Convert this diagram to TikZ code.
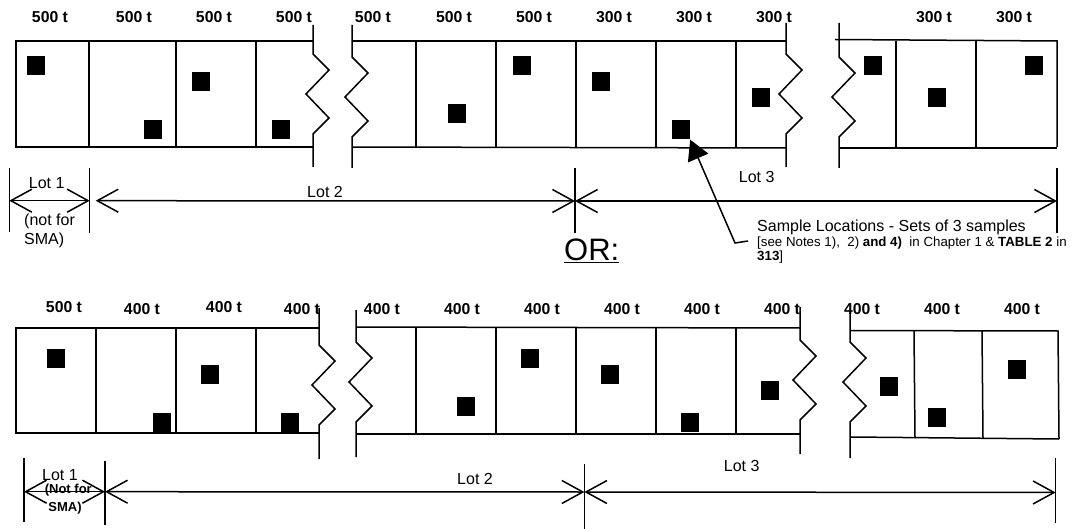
\documentclass[tikz,border=0pt]{standalone}
\usepackage{fontspec}
\setmainfont{Liberation Sans}
\usetikzlibrary{arrows.meta}

\tikzset{
	cell/.style={line width=1.5pt},
	sample/.style={fill=black,inner sep=0pt,minimum width=18pt,minimum height=19pt},
	tons/.style={font=\fontsize{15.8}{18}\selectfont\bfseries,inner sep=0pt},
	lotlabel/.style={font=\fontsize{16}{18}\selectfont,inner sep=0pt},
	smallnote/.style={font=\fontsize{13.3}{15}\selectfont,inner sep=0pt,anchor=base west},
	dimline/.style={line width=1.5pt,{Straight Barb[length=21pt,width=23pt]}-{Straight Barb[length=21pt,width=23pt]}},
}

\begin{document}
\begin{tikzpicture}[x=1pt,y=-1pt]
		\useasboundingbox (0,0) rectangle (1075,529);
		% upper layout
		\draw[cell] (313,41) -- (16,41) -- (16,147) -- (313,147);
		\draw[cell] (352,41) -- (786,41);
		\draw[cell] (352,147) -- (786,148);
		\draw[cell] (835,39.5) -- (1057,41) -- (1057,147);
		\draw[cell] (839,148) -- (1057,148);
		\foreach \x in {89,176,256,416,496,576,656,736,896,976}{
			\draw[cell] (\x,41) -- (\x,147.5);
		}
		\foreach \x/\ya/\yb/\yc in {313/25/54/167, 352/25/57/168, 786/23/54/167, 839/23/57/168}{
			\draw[cell] (\x,\ya) -- (\x,\yb) -- ++(16,16) -- ++(-23,24) -- ++(23,24) -- ++(-16,16) -- (\x,\yc);
		}
		\foreach \x/\w [count=\i] in {50/500,134/500,214/500,294/500,373/500,454/500,534/500,614/300,694/300,774/300,934/300,1014/300}{
			\node[tons] (ta\i) at (\x,17) {\w\ t};
		}
		\foreach \x/\y [count=\i] in {36/66,153/130,201/82,281/130,457/114,522/66,601/82,681/130,761/98,873/66,937/98,1034/66}{
			\node[sample] (sa\i) at (\x,\y) {};
		}
		\foreach \x/\ya/\yb in {9.3/168/232, 89.7/168/233, 575/168.5/233.5, 1057/168/233}{
			\draw[cell] (\x,\ya) -- (\x,\yb);
		}
		\coordinate (la0) at (9.3,200.7);
		\coordinate (la1) at (89.7,200.7);
		\coordinate (la1b) at (95.7,200.7);
		\coordinate (la2) at (575,201);
		\coordinate (la3) at (1057,201);
		\draw[dimline] (la0) -- (la1);
		\draw[dimline] (la1b) -- (la2);
		\draw[dimline] (la2) -- (la3);
		\node[lotlabel] (lota1) at (46.7,182.7) {Lot 1};
		\node[lotlabel,anchor=west] (nota) at (24,221.7) {(not for};
		\node[lotlabel,anchor=west] (notb) at (24,240) {SMA)};
		\node[lotlabel] (lota2) at (325,192) {Lot 2};
		\node[lotlabel] (lota3) at (756.7,176.7) {Lot 3};

		% sample note
		\node[lotlabel,anchor=base west] (note1) at (757,232) {Sample Locations - Sets of 3 samples};
		\node[smallnote] (note2) at (757,246.5) {[see Notes 1),\ \ 2) \textbf{and 4)}\ \ in Chapter 1 \& \textbf{TABLE 2} in};
		\node[smallnote] (note3) at (757,260.5) {\textbf{313}]};
		\coordinate (lead) at (748,241);
		\draw[cell,-{Triangle[length=20pt,width=22pt]}] (lead) -- (735,243) -- (sa8.south east);
		\node[font=\fontsize{31}{34}\selectfont,inner sep=0pt,anchor=base] (or) at (591.7,260.7) {\underline{OR:}};

		% lower layout
		\draw[cell] (319,328) -- (16,328) -- (16,433) -- (319,433);
		\draw[cell] (356,327) -- (800,328);
		\draw[cell] (356,434) -- (800,434);
		\draw[cell] (850,330.5) -- (1058,331) -- (1059,439);
		\draw[cell] (851,437) -- (1059,439);
		\foreach \x in {96,176,256,416,496,576,656,736}{
			\draw[cell] (\x,328) -- (\x,434);
		}
		\draw[cell] (914,331) -- (915,438);
		\draw[cell] (982,331) -- (983,438.5);
		\foreach \x/\ya/\yb/\yc in {319/308/345/459, 356/310/342/457, 800/307/340/454, 850/310/342/458}{
			\draw[cell] (\x,\ya) -- (\x,\yb) -- ++(16,16) -- ++(-23,24) -- ++(23,24) -- ++(-16,16) -- (\x,\yc);
		}
		\foreach \x/\y/\w [count=\i] in {64/306.7/500,142/309/400,224/306.7/400,302/309/400,382/309/400,462/309/400,542/309/400,622/309/400,702/309/400,782/309/400,862/309/400,942/309/400,1022/309/400}{
			\node[tons] (tb\i) at (\x,\y) {\w\ t};
		}
		\foreach \x/\y [count=\i] in {56/358,162/422.5,210/374,290/422.5,466/406,530/358,610/374,690/422.5,770/390,889/386,937/417,1017/369}{
			\node[sample] (sb\i) at (\x,\y) {};
		}
		\foreach \x/\ya/\yb in {24/458/522, 105/461/525, 584.4/464/530, 1055.6/458/523}{
			\draw[cell] (\x,\ya) -- (\x,\yb);
		}
		\coordinate (lb0) at (24,491.7);
		\coordinate (lb1) at (105,491.7);
		\coordinate (lb2) at (584.4,492);
		\coordinate (lb3) at (1055.6,492.5);
		\draw[dimline] (lb0) -- (lb1);
		\draw[dimline] (lb1) -- (lb2);
		\draw[dimline] (lb2) -- (lb3);
		\node[lotlabel] (lotb1) at (60,475) {Lot 1};
		\node[font=\fontsize{13}{15}\selectfont\bfseries,inner sep=0pt] (notc) at (68.3,490) {(Not for};
		\node[font=\fontsize{13}{15}\selectfont\bfseries,inner sep=0pt] (notd) at (65,508.3) {SMA)};
		\node[lotlabel] (lotb2) at (475,479) {Lot 2};
		\node[lotlabel] (lotb3) at (741.7,466) {Lot 3};
	\end{tikzpicture}
\end{document}
